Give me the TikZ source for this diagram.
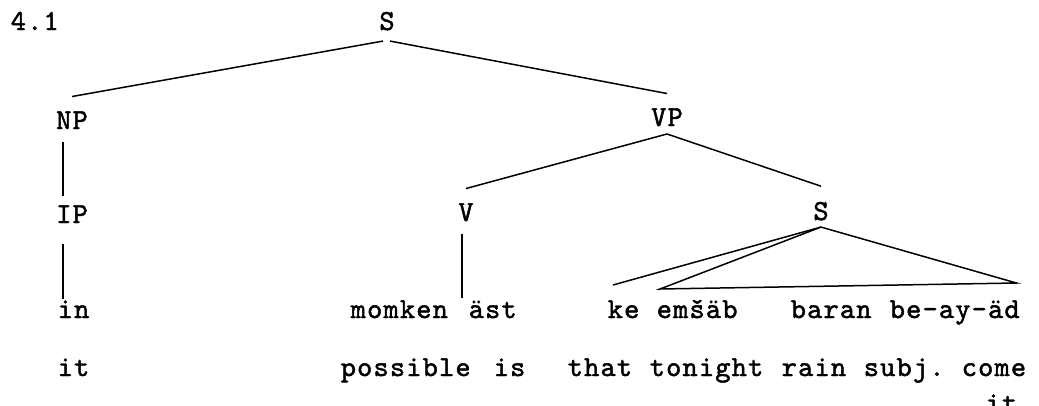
\documentclass[tikz,border=0pt]{standalone}
\usepackage{fontspec}
\newfontfamily\typer{lmmono10-regular.otf}[LetterSpace=4,FakeBold=1.6]
\begin{document}
\begin{tikzpicture}[x=1pt, y=-1pt, line width=1.5pt,
	every node/.style={font=\typer\fontsize{29}{32}\selectfont, inner sep=0pt, anchor=base},
	word/.style={anchor=base west}]

	\useasboundingbox (0,0) rectangle (1039,405);
	\clip (0,0) rectangle (1039,405);

	\node[word] (num) at (10,30) {4.1};

	\node (s) at (387,30) {S};
	\node (np) at (72,129) {NP};
	\node (vp) at (667,126) {VP};
	\node (ip) at (72,223) {IP};
	\node (v) at (466,221) {V};
	\node (s2) at (821,220) {S};

	\node[word] (in) at (57,318) {in};
	\node[word] (momken) at (350,318) {momken};
	\node[word] (ast) at (468,318) {äst};
	\node[word] (ke) at (607,318) {ke};
	\node[word] (emsab) at (656,318) {emšäb};
	\node[word] (baran) at (790,318) {baran};
	\node[word] (beayad) at (889,318) {be-ay-äd};

	\node[word] (it) at (57,376) {it};
	\node[word] (possible) at (340,376) {possible};
	\node[word] (is) at (493,376) {is};
	\node[word] (that) at (567,376) {that};
	\node[word] (tonight) at (649,376) {tonight};
	\node[word] (rain) at (781,376) {rain};
	\node[word] (subj) at (863,376) {subj.};
	\node[word] (come) at (961,376) {come};
	\node[word] (itsub) at (985,412) {it};

	\draw ([xshift=-4pt,yshift=-10pt]s.south) -- ([yshift=14pt]np.north);
	\draw ([xshift=3pt,yshift=-10pt]s.south) -- ([yshift=14pt]vp.north);
	\draw ([yshift=-7pt]vp.south) -- ([yshift=14pt]v.north);
	\draw ([yshift=-7pt]vp.south) -- ([yshift=15pt]s2.north);

	\draw ([xshift=-9pt,yshift=-12pt]np.south) -- ([xshift=-9pt,yshift=9pt]ip.north);
	\draw ([xshift=-9pt,yshift=-20pt]ip.south) -- ([xshift=-9pt,yshift=1pt]ip.south |- in.north);
	\draw ([xshift=-4pt,yshift=-12pt]v.south) -- ([xshift=-4pt,yshift=2pt]v.south |- momken.north);

	\coordinate (apex) at ([yshift=-6pt]s2.south);
	\coordinate (kefoot) at ([xshift=6pt,yshift=33pt]ke.base west);
	\coordinate (triL) at ([xshift=4pt,yshift=29pt]emsab.base west);
	\coordinate (triR) at ([xshift=-4pt,yshift=35pt]beayad.base east);
	\draw (apex) -- (kefoot);
	\draw (apex) -- (triL) -- (triR) -- cycle;
\end{tikzpicture}
\end{document}
